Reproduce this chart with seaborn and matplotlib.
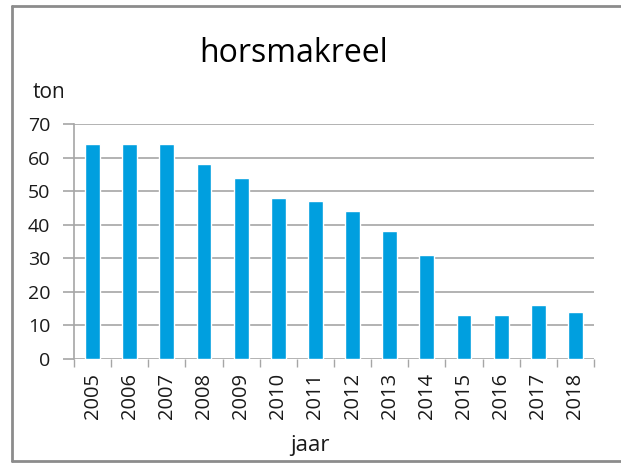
import matplotlib
matplotlib.use("Agg")
import matplotlib.pyplot as plt
import seaborn as sns
import pandas as pd
from matplotlib.lines import Line2D

# Annual landings of horse mackerel (tonnes)
years = ["2005", "2006", "2007", "2008", "2009", "2010", "2011",
         "2012", "2013", "2014", "2015", "2016", "2017", "2018"]
tonnes = [64, 64, 64, 58, 54, 48, 47, 44, 38, 31, 13, 13, 16, 14]
y_ticks = [0, 10, 20, 30, 40, 50, 60, 70]

title = "horsmakreel"
y_label = "ton"
x_label = "jaar"

bar_color = "#009FDF"
grid_color = "#A6A6A6"
text_color = "#1A1A1A"

sns.set_theme(style="white")
plt.rcParams["font.family"] = ["Open Sans", "DejaVu Sans"]

df = pd.DataFrame({"jaar": years, "ton": tonnes})

W, H = 621, 463
fig = plt.figure(figsize=(W / 100, H / 100), dpi=100)
ax = fig.add_axes([74 / W, 1 - 359 / H, (594 - 74) / W, (359 - 124) / H])

sns.barplot(data=df, x="jaar", y="ton", color=bar_color, width=0.4,
            saturation=1, ax=ax, zorder=3)

ax.set_xlim(-0.5, len(years) - 0.5)
ax.set_ylim(0, 70)
ax.set_yticks(y_ticks)
ax.set_yticklabels([str(v) for v in y_ticks], fontsize=14, color=text_color)

# horizontal grid lines
for v in y_ticks:
    ax.axhline(v, color=grid_color, lw=1.2, zorder=1)

ax.set_xticks(range(len(years)))
ax.set_xticklabels(years, rotation=90, fontsize=14.5, color=text_color)
ax.set_xticks([i - 0.5 for i in range(len(years) + 1)], minor=True)
ax.tick_params(axis="x", which="major", length=0, pad=10)
ax.tick_params(axis="x", which="minor", length=6, width=1, color=grid_color,
               direction="out", bottom=True)
ax.tick_params(axis="y", which="major", length=8, width=1.2, color=grid_color,
               direction="out", left=True, pad=9)

for side in ["top", "right", "bottom"]:
    ax.spines[side].set_visible(False)
ax.spines["left"].set_color(grid_color)
ax.spines["left"].set_linewidth(1.2)

ax.set_xlabel("")
ax.set_ylabel("")

fig.text(310 / W, 1 - 445 / H, x_label, ha="center", va="center",
         fontsize=16, color=text_color)
fig.text(49 / W, 1 - 92 / H, y_label, ha="center", va="center",
         fontsize=15, color=text_color)
fig.text(294 / W, 1 - 53 / H, title, ha="center", va="center",
         fontsize=23, color="black")

# outer frame (right edge runs off the canvas)
frame_color = "#8C8C8C"
fig.add_artist(Line2D([12 / W, 1.01], [1 - 6 / H, 1 - 6 / H],
                      transform=fig.transFigure, color=frame_color, lw=2))
fig.add_artist(Line2D([12 / W, 12 / W], [1 - 6 / H, 1 - 461 / H],
                      transform=fig.transFigure, color=frame_color, lw=2))
fig.add_artist(Line2D([12 / W, 1.01], [1 - 461 / H, 1 - 461 / H],
                      transform=fig.transFigure, color=frame_color, lw=2))

fig.savefig("out.png", dpi=100)
